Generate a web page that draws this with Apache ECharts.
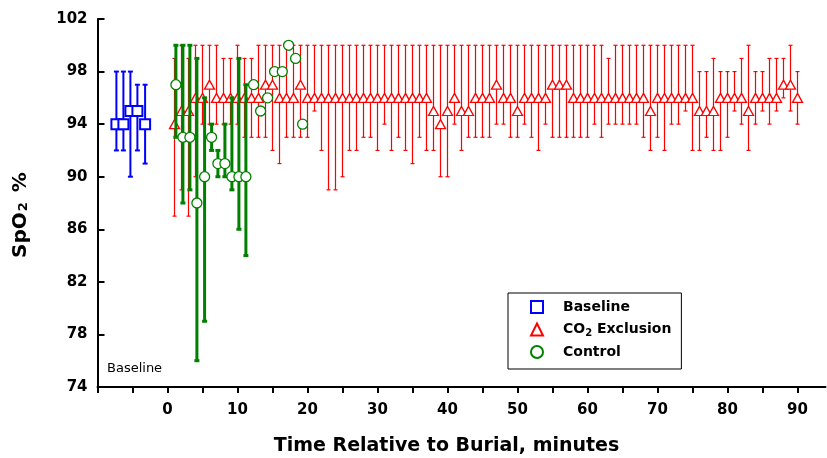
<!DOCTYPE html>
<html>
<head>
<meta charset="utf-8">
<script src="https://cdn.jsdelivr.net/npm/echarts@6/dist/echarts.min.js"></script>
<style>
html,body{margin:0;padding:0;background:#fff;}
#chart{width:827px;height:458px;}
</style>
</head>
<body>
<div id="chart"></div>
<script>
// ---------- data ----------
const xTickValues = [-10,-5,0,5,10,15,20,25,30,35,40,45,50,55,60,65,70,75,80,85,90];
const xLabelValues = [0,10,20,30,40,50,60,70,80,90];
const yTickValues = [74,78,82,86,90,94,98,102];

const baseT    = [-7.3,-6.3,-5.3,-4.3,-3.2];
const baseMean = [94,94,95,95,94];
const baseHi   = [98,98,98,97,97];
const baseLo   = [92,92,90,92,91];

const co2T = [1,2,3,4,5,6,7,8,9,10,11,12,13,14,15,16,17,18,19,20,
  21,22,23,24,25,26,27,28,29,30,31,32,33,34,35,36,37,38,39,40,
  41,42,43,44,45,46,47,48,49,50,51,52,53,54,55,56,57,58,59,60,
  61,62,63,64,65,66,67,68,69,70,71,72,73,74,75,76,77,78,79,80,
  81,82,83,84,85,86,87,88,89,90];
const co2Mean = [94,95,95,96,96,97,96,96,96,96,96,96,96,97,97,96,96,96,97,96,
  96,96,96,96,96,96,96,96,96,96,96,96,96,96,96,96,96,95,94,95,
  96,95,95,96,96,96,97,96,96,95,96,96,96,96,97,97,97,96,96,96,
  96,96,96,96,96,96,96,96,95,96,96,96,96,96,96,95,95,95,96,96,
  96,96,95,96,96,96,96,97,97,96];
const co2Hi = [99,100,99,100,100,100,100,99,99,100,99,99,100,100,100,100,100,100,100,100,
  100,100,100,100,100,100,100,100,100,100,100,100,100,100,100,100,100,100,100,100,
  100,100,100,100,100,100,100,100,100,100,100,100,100,100,100,100,100,100,100,100,
  100,100,99,100,100,100,100,100,100,100,100,100,100,100,100,98,98,99,98,98,
  98,99,100,98,98,99,99,99,100,98];
const co2Lo = [87,89,87,90,94,94,94,94,94,94,93,93,93,93,92,91,93,93,93,93,
  95,92,89,89,90,92,92,93,93,92,94,92,93,92,91,93,92,92,90,90,
  94,92,93,93,93,93,94,94,93,93,94,93,92,94,93,93,93,93,93,93,
  94,93,94,94,94,94,94,93,92,93,92,94,94,95,92,92,93,92,92,93,
  95,94,92,94,95,94,95,96,95,94];

const ctrlT    = [1.2,2.2,3.2,4.2,5.3,6.3,7.2,8.2,9.2,10.2,11.2,12.3,13.3,14.3,15.3,16.4,17.3,18.3,19.3];
const ctrlMean = [97,93,93,88,90,93,91,91,90,90,90,97,95,96,98,98,100,99,94];
const ctrlBarT = [1.2,2.2,3.2,4.2,5.3,6.3,7.2,8.2,9.2,10.2,11.2];
const ctrlHi   = [100,100,100,99,96,94,92,94,96,99,97];
const ctrlLo   = [93,88,89,76,79,92,90,90,89,86,84];

// ---------- helpers ----------
const FONT = '"DejaVu Sans", Verdana, sans-serif';
function pts(t, v){ return t.map((x,i)=>[x, v[i]]); }
function bars(t, lo, hi){ return t.map((x,i)=>[x, lo[i], hi[i]]); }
function errRender(color, lw, capW){
  return function(params, api){
    const x = api.value(0);
    const a = api.coord([x, api.value(2)]);
    const b = api.coord([x, api.value(1)]);
    const st = {stroke: color, lineWidth: lw};
    return {type:'group', children:[
      {type:'line', shape:{x1:a[0], y1:a[1], x2:b[0], y2:b[1]}, style:st},
      {type:'line', shape:{x1:a[0]-capW/2, y1:a[1], x2:a[0]+capW/2, y2:a[1]}, style:st},
      {type:'line', shape:{x1:b[0]-capW/2, y1:b[1], x2:b[0]+capW/2, y2:b[1]}, style:st}
    ]};
  };
}

const chart = echarts.init(document.getElementById('chart'), null, {renderer:'canvas'});
const option = {
  animation: false,
  backgroundColor: '#fff',
  grid: {left: 97.5, right: 1.5, top: 19, bottom: 71, containLabel: false, outerBoundsMode: 'none'},
  xAxis: {
    type: 'value', min: -10, max: 94,
    axisLine: {onZero: false, lineStyle: {color: '#000', width: 2}},
    axisTick: {customValues: xTickValues, length: 6, lineStyle: {color: '#000', width: 2}},
    axisLabel: {customValues: xLabelValues, margin: 16, color: '#000',
      fontFamily: FONT, fontWeight: 'bold', fontSize: 15},
    splitLine: {show: false},
    name: 'Time Relative to Burial, minutes',
    nameLocation: 'middle', nameGap: 50,
    nameTextStyle: {color: '#000', fontFamily: FONT, fontWeight: 'bold', fontSize: 19, padding: [0, 30, 0, 0]}
  },
  yAxis: {
    type: 'value', min: 74, max: 102,
    axisLine: {onZero: false, lineStyle: {color: '#000', width: 2}},
    axisTick: {customValues: yTickValues, inside: true, length: 7, lineStyle: {color: '#000', width: 2}},
    axisLabel: {customValues: yTickValues, margin: 10, color: '#000',
      fontFamily: FONT, fontWeight: 'bold', fontSize: 15},
    splitLine: {show: false},
    name: 'SpO{s|2} %',
    nameLocation: 'middle', nameGap: 67,
    nameTextStyle: {color: '#000', fontFamily: FONT, fontWeight: 'bold', fontSize: 20,
      padding: [0, 24, 0, 0],
      rich: {s: {fontFamily: FONT, fontWeight: 'bold', fontSize: 13, verticalAlign: 'bottom', lineHeight: 13, padding: [0, 3, 0, 1]}}}
  },
  legend: {
    data: ['Baseline', 'CO2 Exclusion', 'Control'],
    orient: 'vertical', left: 508, top: 293,
    padding: [5, 10, 8, 22],
    itemWidth: 12, itemHeight: 12, itemGap: 4.5,
    symbolKeepAspect: true,
    borderColor: '#000', borderWidth: 1,
    formatter: function(name){
      if (name === 'CO2 Exclusion') return '{a|CO}{s|2}{a| Exclusion}';
      return '{a|' + name + '}';
    },
    textStyle: {
      color: '#000', fontFamily: FONT, fontWeight: 'bold', fontSize: 14, lineHeight: 18,
      padding: [0, 0, 0, 15],
      rich: {
        a: {color: '#000', fontFamily: FONT, fontWeight: 'bold', fontSize: 14, lineHeight: 18},
        s: {color: '#000', fontFamily: FONT, fontWeight: 'bold', fontSize: 10, lineHeight: 10, verticalAlign: 'bottom'}
      }
    }
  },
  graphic: [{
    type: 'text', left: 107, top: 362,
    style: {text: 'Baseline', font: '13px ' + FONT, fill: '#000'}
  }],
  series: [
    {name: 'CO2 bars', type: 'custom', z: 2, renderItem: errRender('#ff0000', 1.2, 4),
      data: bars(co2T, co2Lo, co2Hi), silent: true},
    {name: 'CO2 Exclusion', type: 'scatter', z: 3, symbol: 'triangle', symbolSize: [10, 9],
      itemStyle: {color: '#ffffff', borderColor: '#ff0000', borderWidth: 1.3, opacity: 1},
      data: pts(co2T, co2Mean)},
    {name: 'Control bars', type: 'custom', z: 4, renderItem: errRender('#008000', 3, 5),
      data: bars(ctrlBarT, ctrlLo, ctrlHi), silent: true},
    {name: 'Control', type: 'scatter', z: 5, symbol: 'circle', symbolSize: 10,
      itemStyle: {color: '#ffffff', borderColor: '#008000', borderWidth: 1.3, opacity: 1},
      data: pts(ctrlT, ctrlMean)},
    {name: 'Baseline bars', type: 'custom', z: 6, renderItem: errRender('#0000ff', 2, 5),
      data: bars(baseT, baseLo, baseHi), silent: true},
    {name: 'Baseline', type: 'scatter', z: 7, symbol: 'rect', symbolSize: 10,
      itemStyle: {color: '#ffffff', borderColor: '#0000ff', borderWidth: 2, opacity: 1},
      data: pts(baseT, baseMean)}
  ]
};
chart.setOption(option);
</script>
</body>
</html>
